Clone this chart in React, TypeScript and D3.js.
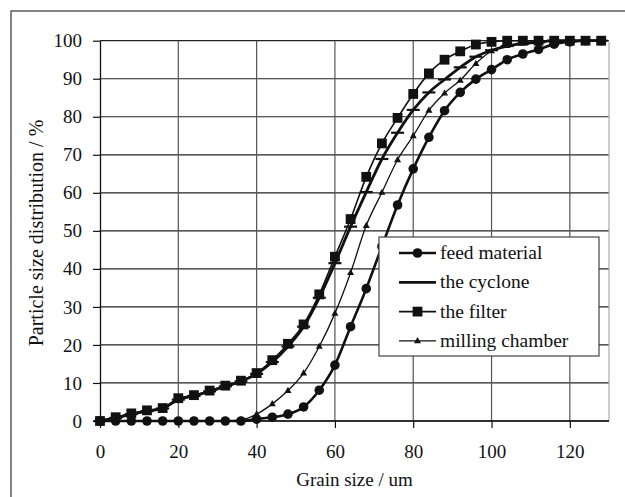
import React, { useEffect, useRef } from "react";
import * as d3 from "d3";

// grain size (um) of every sample point
const grainSize = [
  0, 4, 8, 12, 16, 20, 24, 28, 32, 36, 40, 44, 48, 52, 56, 60, 64, 68, 72, 76,
  80, 84, 88, 92, 96, 100, 104, 108, 112, 116, 120, 124, 128,
];

const feedMaterial = [
  0, 0, 0, 0, 0, 0, 0, 0, 0, 0, 0.5, 1, 1.8, 3.7, 8.1, 14.7, 24.8, 34.8, 45.9,
  56.8, 66.3, 74.6, 81.6, 86.4, 89.9, 92.4, 95, 96.5, 97.7, 99.1, 99.7, 100,
  100,
];

const cyclone = [
  0, 0.8, 1.8, 2.6, 3.3, 5.6, 6.6, 7.8, 9.1, 10.4, 12.4, 15.5, 19.6, 24.8,
  32.4, 41.5, 51.1, 60.2, 68.9, 75.8, 81.8, 86.4, 89.8, 93, 95.8, 97.5, 98.6,
  99.2, 99.6, 100, 100, 100, 100,
];

const filter = [
  0, 1, 2, 2.8, 3.4, 6, 6.8, 8, 9.3, 10.6, 12.6, 16, 20.3, 25.4, 33.3, 43.2,
  53.1, 64.2, 73, 79.7, 86, 91.4, 95, 97.2, 99, 99.7, 100, 100, 100, 100, 100,
  100, 100,
];

const millingChamber = [
  0, 0, 0, 0, 0, 0, 0, 0, 0, 0.3, 1.8, 4.5, 8, 12.6, 19.6, 28.3, 39, 51.4,
  60.1, 68.7, 75, 81.7, 86.2, 89.6, 94, 97.3, 98.7, 99.4, 99.8, 100, 100, 100,
  100,
];

const seriesNames = ["feed material", "the cyclone", "the filter", "milling chamber"];
const xTicks = [0, 20, 40, 60, 80, 100, 120];
const yTicks = [0, 10, 20, 30, 40, 50, 60, 70, 80, 90, 100];

const FONT = "Liberation Serif";

const App = () => {
  const ref = useRef<SVGSVGElement>(null);

  useEffect(() => {
    const svg = d3.select(ref.current);
    svg.selectAll("*").remove();

    const left = 100,
      right = 609,
      top = 40.7,
      bottom = 421;

    const x = d3.scaleLinear().domain([0, 130]).range([left, right]);
    const y = d3.scaleLinear().domain([0, 100]).range([bottom, top]);

    // outer frame (only top and left are inside the picture)
    svg
      .append("rect")
      .attr("x", 11)
      .attr("y", 11)
      .attr("width", 700)
      .attr("height", 600)
      .attr("fill", "none")
      .attr("stroke", "#333")
      .attr("stroke-width", 1.2);

    // grid
    svg
      .append("g")
      .selectAll("line")
      .data(yTicks)
      .enter()
      .append("line")
      .attr("x1", left)
      .attr("x2", right)
      .attr("y1", (d) => y(d))
      .attr("y2", (d) => y(d))
      .attr("stroke", "#222")
      .attr("stroke-width", 1.2);

    svg
      .append("g")
      .selectAll("line")
      .data(xTicks.slice(1))
      .enter()
      .append("line")
      .attr("x1", (d) => x(d))
      .attr("x2", (d) => x(d))
      .attr("y1", top)
      .attr("y2", bottom)
      .attr("stroke", "#555")
      .attr("stroke-width", 1.2);

    svg
      .append("line")
      .attr("x1", right)
      .attr("x2", right)
      .attr("y1", top)
      .attr("y2", bottom)
      .attr("stroke", "#aaa")
      .attr("stroke-width", 1.2);

    // axes
    const yAxis = svg
      .append("g")
      .attr("transform", `translate(${left},0)`)
      .call(d3.axisLeft(y).tickValues(yTicks).tickSize(7).tickSizeOuter(0).tickPadding(11));
    const xAxis = svg
      .append("g")
      .attr("transform", `translate(0,${bottom})`)
      .call(d3.axisBottom(x).tickValues(xTicks).tickSize(7).tickSizeOuter(0).tickPadding(17));
    xAxis.select(".domain").attr("d", `M${left},0H${right}`);

    [yAxis, xAxis].forEach((ax) => {
      ax.attr("font-family", FONT).attr("font-size", 19);
      ax.select(".domain").attr("stroke", "#111").attr("stroke-width", 1.3);
      ax.selectAll(".tick line").attr("stroke", "#111").attr("stroke-width", 1.2);
      ax.selectAll(".tick text").attr("fill", "#111");
    });

    // axis titles
    svg
      .append("text")
      .attr("x", (left + right) / 2)
      .attr("y", 486)
      .attr("text-anchor", "middle")
      .attr("font-family", FONT)
      .attr("font-size", 19)
      .attr("fill", "#111")
      .text("Grain size / um");

    svg
      .append("text")
      .attr("transform", `translate(43,233) rotate(-90)`)
      .attr("text-anchor", "middle")
      .attr("font-family", FONT)
      .attr("font-size", 20)
      .attr("fill", "#111")
      .text("Particle size distribution / %");

    const allSeries = [feedMaterial, cyclone, filter, millingChamber];
    const widths = [2.6, 2.8, 1.6, 1.3];

    const line = d3
      .line<number>()
      .x((d, i) => x(grainSize[i]))
      .y((d) => y(d))
      .curve(d3.curveMonotoneX);

    // draws one marker of series s at (cx, cy)
    const marker = (g: any, s: number, cx: number, cy: number) => {
      if (s === 0) {
        g.append("circle").attr("cx", cx).attr("cy", cy).attr("r", 4.8).attr("fill", "#111");
      } else if (s === 1) {
        g.append("line")
          .attr("x1", cx - 6.5)
          .attr("x2", cx + 6.5)
          .attr("y1", cy)
          .attr("y2", cy)
          .attr("stroke", "#111")
          .attr("stroke-width", 2.2);
      } else if (s === 2) {
        g.append("rect")
          .attr("x", cx - 4.9)
          .attr("y", cy - 4.9)
          .attr("width", 9.8)
          .attr("height", 9.8)
          .attr("fill", "#111");
      } else {
        g.append("path")
          .attr("d", `M${cx},${cy - 3.8}L${cx + 3.5},${cy + 2.4}L${cx - 3.5},${cy + 2.4}Z`)
          .attr("fill", "#111");
      }
    };

    allSeries.forEach((vals, s) => {
      const g = svg.append("g");
      g.append("path")
        .attr("d", line(vals))
        .attr("fill", "none")
        .attr("stroke", "#111")
        .attr("stroke-width", widths[s]);
      vals.forEach((v, i) => marker(g, s, x(grainSize[i]), y(v)));
    });

    // legend
    const lg = svg.append("g");
    lg.append("rect")
      .attr("x", 379)
      .attr("y", 237)
      .attr("width", 220)
      .attr("height", 119)
      .attr("fill", "#fff")
      .attr("stroke", "#444")
      .attr("stroke-width", 1.2);
    seriesNames.forEach((name, s) => {
      const cy = 253 + s * 29.3;
      lg.append("line")
        .attr("x1", 399)
        .attr("x2", 436)
        .attr("y1", cy)
        .attr("y2", cy)
        .attr("stroke", "#111")
        .attr("stroke-width", widths[s]);
      if (s !== 1) marker(lg, s, 417.5, cy);
      lg.append("text")
        .attr("x", 440)
        .attr("y", cy + 6)
        .attr("font-family", FONT)
        .attr("font-size", 19.5)
        .attr("fill", "#111")
        .text(name);
    });
  }, []);

  return (
    <svg
      ref={ref}
      width={625}
      height={497}
      style={{ position: "absolute", left: 0, top: 0, background: "#fff" }}
    />
  );
};

export default App;
